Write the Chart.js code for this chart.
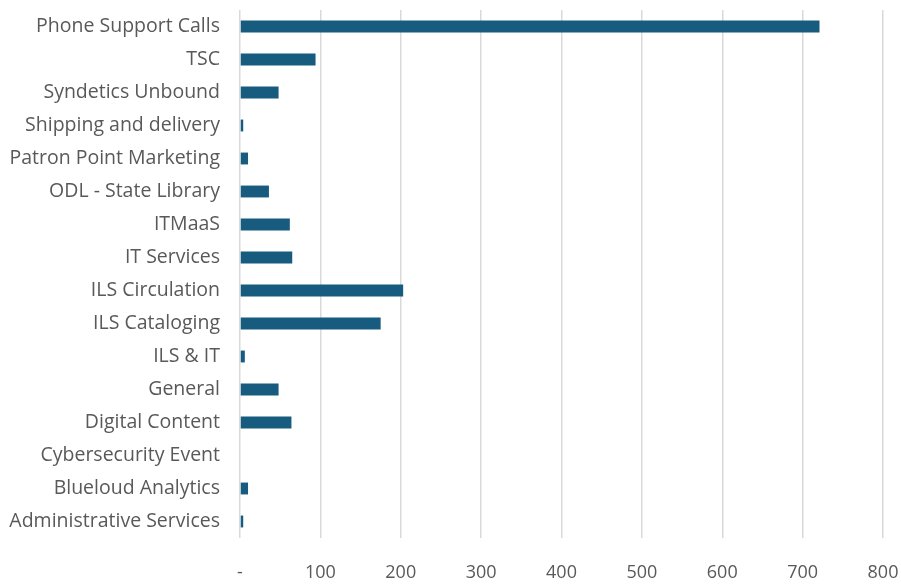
<!DOCTYPE html>
<html><head><meta charset="utf-8">
<script src="https://cdn.jsdelivr.net/npm/chart.js@4/dist/chart.umd.min.js"></script>
<style>html,body{margin:0;padding:0;background:#fff}#wrap{width:901px;height:586px}</style>
</head><body><div id="wrap"><canvas id="c" width="901" height="586"></canvas></div>
<script>
const categories = ["Phone Support Calls","TSC","Syndetics Unbound","Shipping and delivery","Patron Point Marketing","ODL - State Library","ITMaaS","IT Services","ILS Circulation","ILS Cataloging","ILS & IT","General","Digital Content","Cybersecurity Event","Blueloud Analytics","Administrative Services"];
const values = [721,94,48,4,10,36,62,65,203,175,6,48,64,0,10,4];
const xTicks = [0,100,200,300,400,500,600,700,800];

new Chart(document.getElementById('c'), {
  type: 'bar',
  data: { labels: categories, datasets: [{ data: values, backgroundColor: '#175c7e', barPercentage: 0.36, categoryPercentage: 1 }] },
  options: {
    indexAxis: 'y', responsive: false, animation: false,
    layout: { padding: { top: 10, right: 18, left: 8, bottom: 0 } },
    plugins: { legend: { display: false }, tooltip: { enabled: false } },
    scales: {
      x: {
        min: 0, max: 800,
        afterBuildTicks: s => { s.ticks = xTicks.map(v => ({ value: v })); },
        afterFit: s => { s.height = 48; s.paddingLeft = 0; s.paddingRight = 0; },
        grid: { color: '#d9d9d9', lineWidth: 1.5, drawTicks: false },
        border: { display: false },
        ticks: { color: '#595959', padding: 24, font: { family: 'Open Sans', size: 18 }, callback: v => v === 0 ? '-' : String(v) }
      },
      y: {
        afterFit: s => { s.width = 232; s.paddingTop = 0; s.paddingBottom = 0; },
        grid: { display: false, drawTicks: false },
        border: { display: false },
        ticks: { color: '#595959', padding: 20, autoSkip: false, font: { family: 'Open Sans', size: 19.5 } }
      }
    }
  }
});
</script></body></html>
